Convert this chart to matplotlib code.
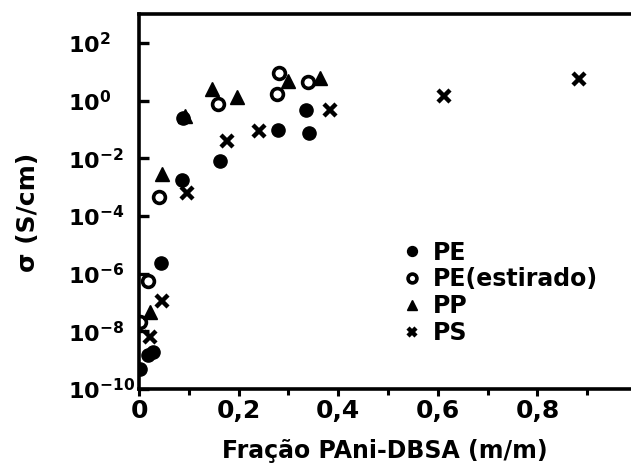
import matplotlib
matplotlib.use("Agg")
import matplotlib.pyplot as plt
import numpy as np
from matplotlib.ticker import FixedLocator, FixedFormatter, NullLocator

plt.rcParams['font.family'] = ['DejaVu Sans']
plt.rcParams['font.weight'] = 'bold'
plt.rcParams['mathtext.fontset'] = 'dejavusans'
plt.rcParams['mathtext.default'] = 'bf'

# Data (x = fraction PAni-DBSA, y = log10 conductivity S/cm)
pe_x = [0.001, 0.018, 0.028, 0.044, 0.086, 0.088, 0.163, 0.280, 0.335, 0.341]
pe_logy = [-9.30, -8.82, -8.72, -5.64, -2.75, -0.60, -2.10, -1.02, -0.33, -1.11]

pe_est_x = [0.002, 0.019, 0.041, 0.159, 0.278, 0.281, 0.340]
pe_est_logy = [-7.69, -6.25, -3.36, -0.13, 0.21, 0.96, 0.64]

pp_x = [0.023, 0.046, 0.092, 0.146, 0.197, 0.300, 0.363]
pp_logy = [-7.32, -2.56, -0.52, 0.41, 0.13, 0.67, 0.79]

ps_x = [0.022, 0.047, 0.097, 0.177, 0.240, 0.384, 0.613, 0.884]
ps_logy = [-8.21, -6.96, -3.19, -1.40, -1.06, -0.33, 0.15, 0.76]

labels = ['PE', 'PE(estirado)', 'PP', 'PS']
xtick_vals = [0, 0.2, 0.4, 0.6, 0.8]
xtick_labels = ['0', '0,2', '0,4', '0,6', '0,8']
xminor_vals = [0.1, 0.3, 0.5, 0.7, 0.9]
ytick_exps = [2, 0, -2, -4, -6, -8, -10]

fig = plt.figure(figsize=(6.31, 4.71), dpi=100)
ax = fig.add_axes([0.2203, 0.1741, 0.7797, 0.7962])

ms = 9.5
ax.plot(pe_x, 10**np.array(pe_logy), 'o', color='black', ms=ms, ls='none', label=labels[0])
ax.plot(pe_est_x, 10**np.array(pe_est_logy), 'o', mfc='white', mec='black', mew=2.6,
        ms=ms - 1, ls='none', label=labels[1])
ax.plot(pp_x, 10**np.array(pp_logy), '^', color='black', ms=ms, ls='none', label=labels[2])
ax.plot(ps_x, 10**np.array(ps_logy), 'x', color='black', ms=ms - 1, mew=3.2, ls='none', label=labels[3])

ax.set_yscale('log')
ax.set_xlim(0, 0.988)
ax.set_ylim(1e-10, 1e3)

ax.spines['right'].set_visible(False)
for s in ['left', 'bottom', 'top']:
    ax.spines[s].set_linewidth(2.6)

ax.xaxis.set_major_locator(FixedLocator(xtick_vals))
ax.xaxis.set_major_formatter(FixedFormatter(xtick_labels))
ax.xaxis.set_minor_locator(FixedLocator(xminor_vals))
ax.yaxis.set_major_locator(FixedLocator([10.0**e for e in ytick_exps]))
ax.yaxis.set_major_formatter(FixedFormatter([r'$\mathbf{10^{%d}}$' % e for e in ytick_exps]))
ax.yaxis.set_minor_locator(NullLocator())

ax.tick_params(axis='x', which='major', direction='out', length=5, width=2.2, labelsize=18, pad=2)
ax.tick_params(axis='x', which='minor', direction='out', length=4, width=2.2)
ax.tick_params(axis='y', which='major', direction='in', length=7, width=2.4, labelsize=16, pad=51)
ax.tick_params(top=False, right=False)
for lab in ax.get_yticklabels():
    lab.set_horizontalalignment('left')

ax.set_xlabel('Fração PAni-DBSA (m/m)', fontsize=17, fontweight='bold', labelpad=12)
ax.set_ylabel('σ (S/cm)', fontsize=18, fontweight='bold')
ax.yaxis.set_label_coords(-0.202, 0.47)

leg = ax.legend(loc='upper left', bbox_to_anchor=(0.516, 0.421), frameon=False,
                fontsize=17, markerscale=0.75, handlelength=0.8, handletextpad=0.5,
                labelspacing=0.12, borderaxespad=0)
for t in leg.get_texts():
    t.set_fontweight('bold')

fig.savefig('out.png', dpi=100)
